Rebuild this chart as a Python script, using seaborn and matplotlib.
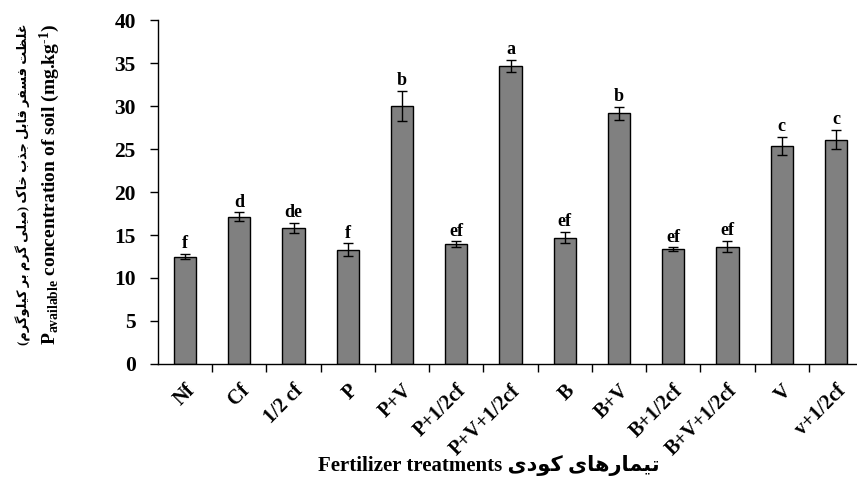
import numpy as np
import pandas as pd
import seaborn as sns
import matplotlib.pyplot as plt
from matplotlib.ticker import FixedLocator

# data
cats = ['Nf', 'Cf', '1/2 cf', 'P', 'P+V', 'P+1/2cf', 'P+V+1/2cf', 'B', 'B+V',
        'B+1/2cf', 'B+V+1/2cf', 'V', 'v+1/2cf']
vals = [12.5, 17.15, 15.8, 13.3, 30.0, 13.95, 34.65, 14.7, 29.15, 13.37, 13.64, 25.35, 26.1]
errs = [0.3, 0.47, 0.6, 0.75, 1.78, 0.33, 0.72, 0.68, 0.73, 0.2, 0.67, 1.08, 1.14]
letters = ['f', 'd', 'de', 'f', 'b', 'ef', 'a', 'ef', 'b', 'ef', 'ef', 'c', 'c']
yticks = [0, 5, 10, 15, 20, 25, 30, 35, 40]

fa_ylabel = 'غلظت فسفر قابل جذب خاک (میلی گرم بر کیلوگرم)'
fa_xlabel = 'تیمارهای کودی'

# simple persian shaping (matplotlib has no bidi / joining)
# char: (isolated, final, initial, medial); 2-tuple = joins only to the right
FORMS = {
    'ا': ('\uFE8D', '\uFE8E'),
    'ب': ('\uFE8F', '\uFE90', '\uFE91', '\uFE92'),
    'ت': ('\uFE95', '\uFE96', '\uFE97', '\uFE98'),
    'ج': ('\uFE9D', '\uFE9E', '\uFE9F', '\uFEA0'),
    'خ': ('\uFEA5', '\uFEA6', '\uFEA7', '\uFEA8'),
    'د': ('\uFEA9', '\uFEAA'),
    'ذ': ('\uFEAB', '\uFEAC'),
    'ر': ('\uFEAD', '\uFEAE'),
    'س': ('\uFEB1', '\uFEB2', '\uFEB3', '\uFEB4'),
    'ظ': ('\uFEC5', '\uFEC6', '\uFEC7', '\uFEC8'),
    'غ': ('\uFECD', '\uFECE', '\uFECF', '\uFED0'),
    'ف': ('\uFED1', '\uFED2', '\uFED3', '\uFED4'),
    'ق': ('\uFED5', '\uFED6', '\uFED7', '\uFED8'),
    'ل': ('\uFEDD', '\uFEDE', '\uFEDF', '\uFEE0'),
    'م': ('\uFEE1', '\uFEE2', '\uFEE3', '\uFEE4'),
    'ه': ('\uFEE9', '\uFEEA', '\uFEEB', '\uFEEC'),
    'و': ('\uFEED', '\uFEEE'),
    'ی': ('\uFEEF', '\uFEF0', '\uFEF3', '\uFEF4'),
    'ک': ('\uFB8E', '\uFB8F', '\uFB90', '\uFB91'),
    'گ': ('\uFB92', '\uFB93', '\uFB94', '\uFB95'),
}


def shape_fa(s):
    out = []
    for i, ch in enumerate(s):
        if ch not in FORMS:
            out.append(ch)
            continue
        prev = s[i - 1] if i > 0 else ''
        nxt = s[i + 1] if i < len(s) - 1 else ''
        j_prev = prev in FORMS and len(FORMS[prev]) == 4
        j_next = len(FORMS[ch]) == 4 and nxt in FORMS
        f = FORMS[ch]
        if j_prev and j_next:
            out.append(f[3])
        elif j_prev:
            out.append(f[1])
        elif j_next:
            out.append(f[2])
        else:
            out.append(f[0])
    vis = ''.join(out)[::-1]
    return vis.translate(str.maketrans('()', ')('))


plt.rcParams['font.family'] = ['Liberation Serif', 'DejaVu Sans']
plt.rcParams['mathtext.fontset'] = 'custom'
plt.rcParams['mathtext.rm'] = 'Liberation Serif:bold'
plt.rcParams['mathtext.bf'] = 'Liberation Serif:bold'
plt.rcParams['mathtext.it'] = 'Liberation Serif:bold'

df = pd.DataFrame({'treatment': cats, 'value': vals})

fig = plt.figure(figsize=(8.57, 4.79), dpi=100)
ax = fig.add_axes([0.1844, 0.2401, 0.8226, 0.7181])

sns.barplot(data=df, x='treatment', y='value', color='#808080', saturation=1,
            edgecolor='black', linewidth=1, width=0.41, ax=ax)
ax.errorbar(np.arange(len(cats)), vals, yerr=errs, fmt='none', ecolor='black',
            elinewidth=1, capsize=3.6, capthick=1)

for i, (v, e, t) in enumerate(zip(vals, errs, letters)):
    ax.annotate(t, (i, v + e), xytext=(0, 4), textcoords='offset points',
                ha='center', va='baseline', fontsize=13, fontweight='bold')

ax.set_xlim(-0.5, len(cats) - 0.5)
ax.set_ylim(0, 40)
ax.set_yticks(yticks)
ax.tick_params(axis='y', labelsize=15.5, length=6, width=1, pad=10)
for lab in ax.get_yticklabels():
    lab.set_fontweight('bold')

ax.set_xticks(range(len(cats)))
ax.set_xticklabels(cats, rotation=45, ha='right', rotation_mode='anchor',
                   fontsize=14.5, fontweight='bold')
ax.tick_params(axis='x', which='major', length=0, pad=12)
ax.xaxis.set_minor_locator(FixedLocator(np.arange(len(cats)) + 0.5))
ax.tick_params(axis='x', which='minor', length=6, width=1, direction='out')

for side in ['top', 'right']:
    ax.spines[side].set_visible(False)
for side in ['left', 'bottom']:
    ax.spines[side].set_linewidth(1)
    ax.spines[side].set_color('black')
ax.set_xlabel('')
ax.set_ylabel('')

fig.text(0.57, 0.028, 'Fertilizer treatments ' + shape_fa(fa_xlabel),
         ha='center', va='center', fontsize=15, fontweight='bold')
fig.text(0.027, 0.615, shape_fa(fa_ylabel), rotation=90, ha='center', va='center',
         fontsize=9.3, fontweight='bold')
fig.text(0.058, 0.615, r'P$_{\rm available}$ concentration of soil (mg.kg$^{\text{-1}}$)',
         rotation=90, ha='center', va='center', fontsize=14, fontweight='bold')

fig.savefig('out.png', dpi=100)
